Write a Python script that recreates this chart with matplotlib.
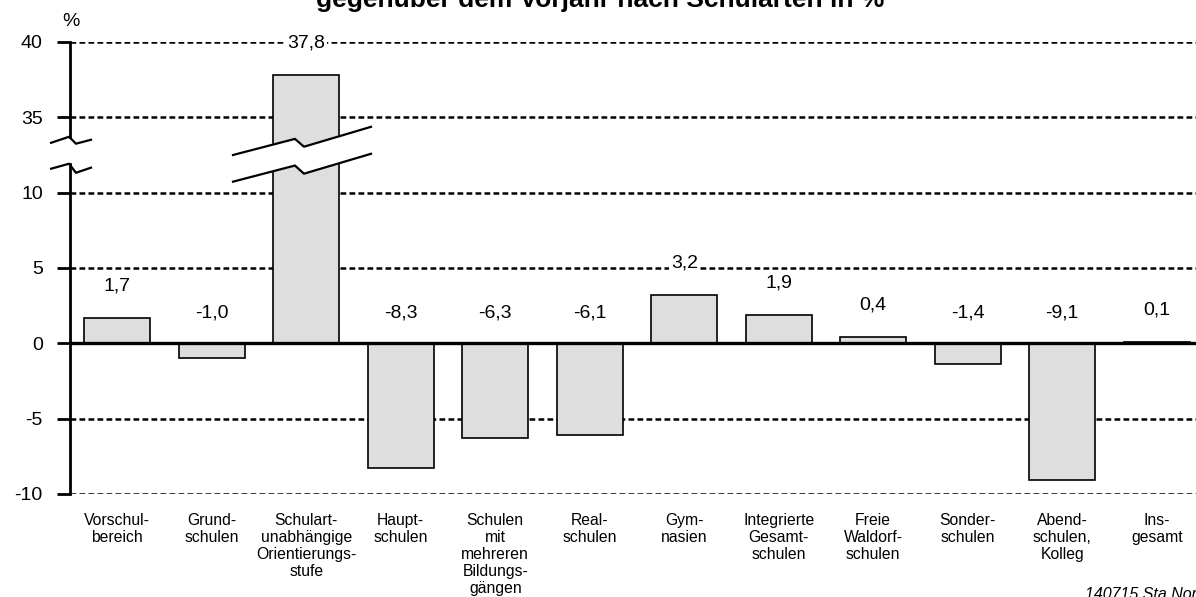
import numpy as np
import matplotlib.pyplot as plt

plt.rcParams['font.family'] = ['Liberation Sans', 'DejaVu Sans']

categories = ['Vorschul-\nbereich', 'Grund-\nschulen',
              'Schulart-\nunabhängige\nOrientierungs-\nstufe', 'Haupt-\nschulen',
              'Schulen\nmit\nmehreren\nBildungs-\ngängen', 'Real-\nschulen',
              'Gym-\nnasien', 'Integrierte\nGesamt-\nschulen', 'Freie\nWaldorf-\nschulen',
              'Sonder-\nschulen', 'Abend-\nschulen,\nKolleg', 'Ins-\ngesamt']
values = [1.7, -1.0, 37.8, -8.3, -6.3, -6.1, 3.2, 1.9, 0.4, -1.4, -9.1, 0.1]
yticks = [-10, -5, 0, 5, 10, 35, 40]


# broken axis: 10..35 squeezed into 5 units
def fwd(v):
    v = np.asarray(v, dtype=float)
    return np.where(v <= 10, v, np.where(v >= 35, v - 20, 10 + (v - 10) * 0.2))


def inv(t):
    t = np.asarray(t, dtype=float)
    return np.where(t <= 10, t, np.where(t >= 15, t + 20, 10 + (t - 10) * 5))


fig = plt.figure(figsize=(11.96, 5.97), dpi=100)
ax = fig.add_axes([70 / 1196, 103 / 597, 1134 / 1196, 452 / 597])
ax.set_yscale('function', functions=(fwd, inv))
ax.set_ylim(-10, 40)
ax.set_xlim(-0.5, len(values) - 0.5)
x = np.arange(len(values))

for yv in yticks:
    ax.axhline(yv, color='black', lw=1.8, ls=(0, (2.3, 1.3)), zorder=1)
ax.bar(x, values, width=0.7, color='#dedede', edgecolor='black', lw=1.2, zorder=2)
ax.axhline(0, color='black', lw=2.4, zorder=3)

for s in ax.spines.values():
    s.set_visible(False)

# left axis line with break marks
ax.plot([-0.5, -0.5], [-10, inv(11.92)], color='black', lw=2, clip_on=False, zorder=4)
ax.plot([-0.5, -0.5], [inv(13.71), 40], color='black', lw=2, clip_on=False, zorder=4)
bx = np.array([-0.2, -0.01, 0.063, 0.222]) - 0.5
ax.plot(bx, inv([13.31, 13.71, 13.25, 13.51]), color='black', lw=1.6, clip_on=False, zorder=4)
ax.plot(bx, inv([11.59, 11.92, 11.32, 11.66]), color='black', lw=1.6, clip_on=False, zorder=4)

# break across the big bar
px = np.array([-0.775, -0.12, -0.024, 0.685]) + 2
up = [12.5, 13.57, 13.05, 14.37]
lo = [10.73, 11.8, 11.26, 12.58]
ax.fill(np.r_[px, px[::-1]], inv(np.r_[up, lo[::-1]]), color='white', zorder=5)
ax.plot(px, inv(up), color='black', lw=1.6, zorder=6)
ax.plot(px, inv(lo), color='black', lw=1.6, zorder=6)

for i, v in enumerate(values):
    ax.annotate(f'{v:.1f}'.replace('.', ','), xy=(i, max(v, 0)),
                xytext=(0, 23 if v > 0 else 22), textcoords='offset points',
                ha='center', va='center', fontsize=14, zorder=7,
                bbox=dict(fc='white', ec='none', pad=1.5))

ax.set_yticks(yticks)
ax.set_yticklabels([str(t) for t in yticks])
ax.tick_params(axis='y', length=9.6, width=2, pad=10, labelsize=14)
ax.set_xticks(x)
ax.set_xticklabels(categories, linespacing=1.15)
ax.tick_params(axis='x', length=0, pad=14, labelsize=11.3)

fig.text(600 / 1196, 1 - 7 / 597, 'gegenüber dem Vorjahr nach Schularten in %',
         ha='center', va='baseline', fontsize=19, fontweight='bold')
fig.text(71 / 1196, 1 - 21 / 597, '%', ha='center', va='center', fontsize=14)
fig.text(1085 / 1196, 1 - 599 / 597, '140715 Sta Nord', ha='left', va='baseline',
         style='italic', fontsize=11.5)

fig.savefig('out.png', dpi=100)
